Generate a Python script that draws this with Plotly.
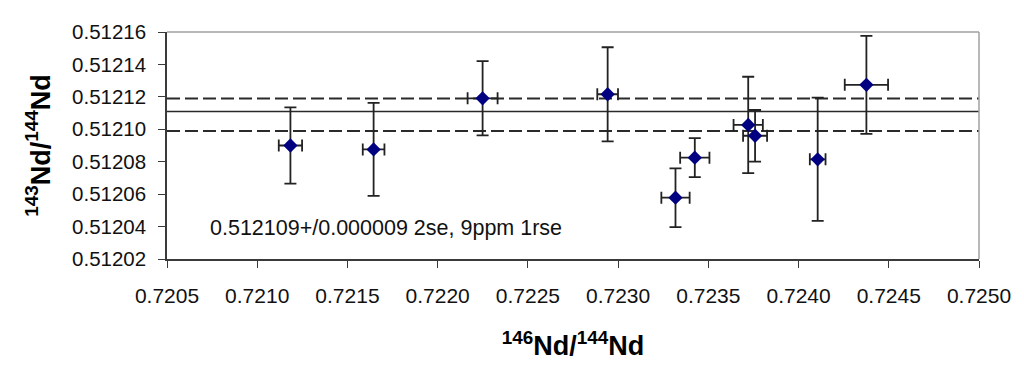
import plotly.graph_objects as go

# Data
nd146_144 = [0.721184, 0.721645, 0.722249, 0.722942, 0.723318, 0.723425, 0.723721, 0.723759, 0.724106, 0.724376]
nd146_err = [0.0000646, 0.0000601, 0.0000831, 0.0000574, 0.0000784, 0.0000812, 0.0000812, 0.0000665, 0.0000435, 0.000120]
nd143_144 = [0.5120900, 0.5120876, 0.5121191, 0.5121216, 0.5120578, 0.5120825, 0.5121027, 0.5120960, 0.5120815, 0.5121274]
nd143_err = [0.0000235, 0.0000287, 0.0000229, 0.0000290, 0.0000181, 0.0000120, 0.0000297, 0.0000159, 0.0000380, 0.0000302]

mean_value = 0.512111
band_upper = 0.512119
band_lower = 0.512099

x_ticks = [0.7205, 0.7210, 0.7215, 0.7220, 0.7225, 0.7230, 0.7235, 0.7240, 0.7245, 0.7250]
x_tick_labels = ["0.7205", "0.7210", "0.7215", "0.7220", "0.7225", "0.7230", "0.7235", "0.7240", "0.7245", "0.7250"]
y_ticks = [0.51202, 0.51204, 0.51206, 0.51208, 0.51210, 0.51212, 0.51214, 0.51216]
y_tick_labels = ["0.51202", "0.51204", "0.51206", "0.51208", "0.51210", "0.51212", "0.51214", "0.51216"]

annotation_text = "0.512109+/0.000009 2se, 9ppm 1rse"

FONT = "Liberation Sans, Arial, sans-serif"
AXIS_COLOR = "#3a3a3a"

fig = go.Figure()

fig.add_trace(go.Scatter(
    x=nd146_144, y=nd143_144,
    mode="markers",
    marker=dict(symbol="diamond", size=11, color="#000080", line=dict(width=0)),
    error_x=dict(type="data", array=nd146_err, visible=True, color="#222222", thickness=1.8, width=6),
    error_y=dict(type="data", array=nd143_err, visible=True, color="#222222", thickness=1.8, width=6),
    showlegend=False,
    hoverinfo="x+y",
))

# Mean line and +/- band
fig.add_shape(type="line", xref="paper", x0=0, x1=1, yref="y", y0=mean_value, y1=mean_value,
              line=dict(color="#2a2a2a", width=1.6), layer="below")
for yv in (band_upper, band_lower):
    fig.add_shape(type="line", xref="paper", x0=0, x1=1, yref="y", y0=yv, y1=yv,
                  line=dict(color="#2a2a2a", width=2, dash="13px,5px"), layer="below")

# Grey top / right frame
fig.add_shape(type="line", xref="paper", yref="paper", x0=0, x1=1, y0=1, y1=1,
              line=dict(color="#a0a0a0", width=1.5))
fig.add_shape(type="line", xref="paper", yref="paper", x0=1, x1=1, y0=0, y1=1,
              line=dict(color="#a0a0a0", width=1.5))

fig.add_annotation(
    text=annotation_text, xref="paper", yref="paper", x=0.05, y=0.135,
    xanchor="left", yanchor="middle", showarrow=False,
    font=dict(family=FONT, size=21.5, color="#111111"),
)

fig.update_xaxes(
    range=[0.7205, 0.7250],
    tickmode="array", tickvals=x_ticks, ticktext=x_tick_labels,
    ticks="outside", ticklen=7, tickwidth=1.2, tickcolor=AXIS_COLOR,
    showline=True, linecolor=AXIS_COLOR, linewidth=1.5,
    showgrid=False, zeroline=False,
    tickfont=dict(family=FONT, size=21, color="#111111"),
    ticklabelstandoff=10,
    title=dict(text="<b><sup>146</sup>Nd/<sup>144</sup>Nd</b>", font=dict(family=FONT, size=27, color="#000000"),
               standoff=30),
)
fig.update_yaxes(
    range=[0.51202, 0.51216],
    tickmode="array", tickvals=y_ticks, ticktext=y_tick_labels,
    ticks="outside", ticklen=7, tickwidth=1.2, tickcolor=AXIS_COLOR,
    showline=True, linecolor=AXIS_COLOR, linewidth=1.5,
    showgrid=False, zeroline=False,
    tickfont=dict(family=FONT, size=20.5, color="#111111"),
    ticklabelstandoff=8,
    title=dict(text="<b><sup>143</sup>Nd/<sup>144</sup>Nd</b>", font=dict(family=FONT, size=27, color="#000000"),
               standoff=14),
)

fig.update_layout(
    width=1024, height=379,
    margin=dict(l=159, r=53, t=20, b=128),
    paper_bgcolor="white", plot_bgcolor="white",
    font=dict(family=FONT),
)

fig.write_html("out.html")
